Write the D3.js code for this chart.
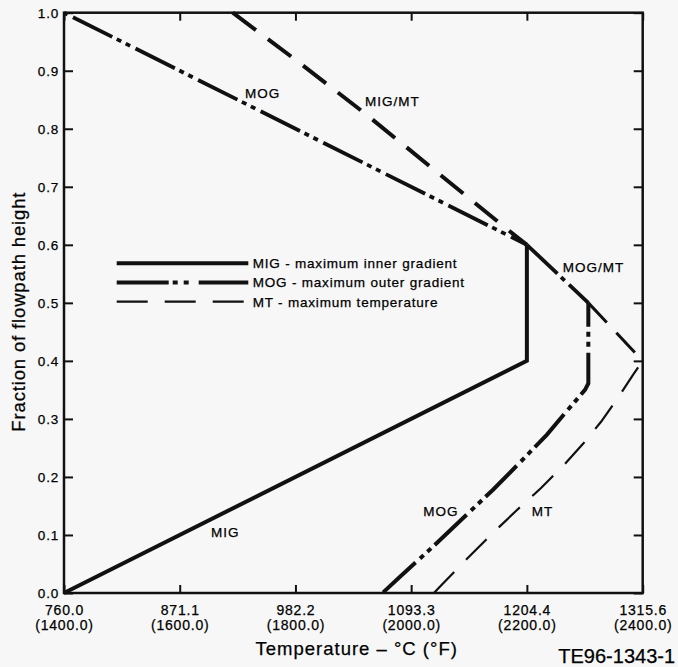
<!DOCTYPE html>
<html>
<head>
<meta charset="utf-8">
<script src="https://cdn.jsdelivr.net/npm/d3@7"></script>
<style>
  body { margin: 0; background: #f7f7f7; }
  svg { display: block; }
  text { font-family: "Liberation Sans", Arial, sans-serif; fill: #000; stroke: #000; stroke-width: 0.25px; }
</style>
</head>
<body>
<div id="chart"></div>
<script>
// tick values
var xTicksC = [760.0, 871.1, 982.2, 1093.3, 1204.4, 1315.6];
var xTicksF = ["(1400.0)", "(1600.0)", "(1800.0)", "(2000.0)", "(2200.0)", "(2400.0)"];
var yTicks = [0, 0.1, 0.2, 0.3, 0.4, 0.5, 0.6, 0.7, 0.8, 0.9, 1.0];

// curves as [temperature C, fraction of height]
var mig = [[760, 0], [1204.4, 0.4], [1204.4, 0.6]];
var migMt = [[922, 1.0], [986.6, 0.913], [1050.6, 0.824], [1121, 0.721], [1188.2, 0.623], [1204.4, 0.6]];
var mogUpper = [[760, 1.0], [1204.4, 0.6]];
var mogMt = [[1204.4, 0.6], [1263.4, 0.5]];
var mogLower = [[1263.4, 0.5], [1263.4, 0.361], [1260.2, 0.350], [1242.0, 0.312], [1223.7, 0.273],
  [1197.8, 0.225], [1171.9, 0.178], [1146.0, 0.134], [1114.3, 0.080], [1082.6, 0.028], [1065.8, 0]];
var mtUpper = [[1263.4, 0.5], [1315.6, 0.4]];
var mtLower = [[1315.6, 0.4], [1306.3, 0.376], [1290.9, 0.334], [1275.6, 0.295], [1258.3, 0.257],
  [1239.1, 0.219], [1218.0, 0.181], [1194.9, 0.143], [1170.9, 0.102], [1146.9, 0.059],
  [1122.0, 0.013], [1115.2, 0]];

var curveLabels = [
  { text: "MOG", t: 933.8, f: 0.8535 },
  { text: "MIG/MT", t: 1049.0, f: 0.839 },
  { text: "MOG/MT", t: 1238.8, f: 0.5537 },
  { text: "MIG", t: 901.1, f: 0.097 },
  { text: "MOG", t: 1105.0, f: 0.1332 },
  { text: "MT", t: 1209.0, f: 0.1332 }
];

var legendItems = ["MIG - maximum inner gradient", "MOG - maximum outer gradient", "MT - maximum temperature"];

var width = 678, height = 667;
var margin = { top: 12.7, right: 35.3, bottom: 74, left: 64 };

var svg = d3.select('#chart')
  .append('svg')
  .attr('width', width)
  .attr('height', height);

var x = d3.scaleLinear()
  .domain([760, 1315.6])
  .range([margin.left, width - margin.right]);

var y = d3.scaleLinear()
  .domain([0, 1])
  .range([height - margin.bottom, margin.top]);

// axes with inward ticks
var tickStyle = function(g) {
  g.select('.domain').remove();
  g.selectAll('.tick line').attr('stroke', '#111').attr('stroke-width', 2);
};

svg.append('g')
  .attr('transform', 'translate(' + margin.left + ',0)')
  .call(d3.axisLeft(y).tickValues(yTicks).tickSize(-9).tickPadding(5).tickFormat(d3.format('.1f')))
  .call(tickStyle)
  .selectAll('text')
  .attr('fill', '#000')
  .attr('dy', '0.36em')
  .style('font-size', '13.5px')
  .style('letter-spacing', '0.8px')
  .style('font-family', '"Liberation Sans", Arial, sans-serif');

svg.append('g')
  .attr('transform', 'translate(' + (width - margin.right) + ',0)')
  .call(d3.axisRight(y).tickValues(yTicks).tickSize(-9).tickFormat(''))
  .call(tickStyle);

svg.append('g')
  .attr('transform', 'translate(0,' + margin.top + ')')
  .call(d3.axisTop(x).tickValues(xTicksC).tickSize(-8).tickFormat(''))
  .call(tickStyle);

var bottom = svg.append('g')
  .attr('transform', 'translate(0,' + (height - margin.bottom) + ')')
  .call(d3.axisBottom(x).tickValues(xTicksC).tickSize(-8).tickFormat(''))
  .call(tickStyle);

bottom.selectAll('.tick').each(function(d, i) {
  var t = d3.select(this);
  t.append('text')
    .attr('y', 22)
    .attr('text-anchor', 'middle')
    .style('font-size', '14px')
    .style('letter-spacing', '0.8px')
    .style('font-family', '"Liberation Sans", Arial, sans-serif')
    .attr('fill', '#000')
    .text(d3.format('.1f')(d));
  t.append('text')
    .attr('y', 37)
    .attr('text-anchor', 'middle')
    .style('font-size', '14px')
    .style('letter-spacing', '0.8px')
    .style('font-family', '"Liberation Sans", Arial, sans-serif')
    .attr('fill', '#000')
    .text(xTicksF[i]);
});

// frame
svg.append('rect')
  .attr('x', x(760))
  .attr('y', y(1))
  .attr('width', x(1315.6) - x(760))
  .attr('height', y(0) - y(1))
  .attr('fill', 'none')
  .attr('stroke', '#111')
  .attr('stroke-width', 2.5);

var line = d3.line()
  .x(d => x(d[0]))
  .y(d => y(d[1]));

var drawLine = function(data, w, dash, offset) {
  svg.append('path')
    .datum(data)
    .attr('d', line)
    .attr('fill', 'none')
    .attr('stroke', '#111')
    .attr('stroke-width', w)
    .attr('stroke-linejoin', 'miter')
    .attr('stroke-dasharray', dash)
    .attr('stroke-dashoffset', offset || 0);
};

var mogDash = '44,5,5,5,5,6';
drawLine(mig, 4, null);
drawLine(migMt, 4, '29,15', 0);
drawLine(mogUpper, 3.8, mogDash, 60);
drawLine(mogMt, 3.8, '42,5,5,6', 0);
drawLine(mogLower, 4, mogDash, 20);
drawLine(mtUpper, 3, '27,14', 0);
drawLine(mtLower, 2.2, '29,17', 38);

// curve labels
svg.selectAll('.clabel')
  .data(curveLabels)
  .enter()
  .append('text')
  .attr('class', 'clabel')
  .attr('x', d => x(d.t))
  .attr('y', d => y(d.f))
  .style('font-size', '13.5px')
  .style('letter-spacing', '1px')
  .text(d => d.text);

// legend
var legend = svg.append('g').attr('transform', 'translate(116.7,263.3)');
var legendDash = [null, '52,4,5,6,5,10', '31,17'];
var legendWidth = [4, 4, 2.2];
legendItems.forEach(function(item, i) {
  legend.append('line')
    .attr('x1', 0).attr('x2', 131.6)
    .attr('y1', i * 19.2).attr('y2', i * 19.2)
    .attr('stroke', '#111')
    .attr('stroke-width', legendWidth[i])
    .attr('stroke-dasharray', legendDash[i]);
  legend.append('text')
    .attr('x', 136)
    .attr('y', i * 19.2 + 5)
    .style('font-size', '13.5px')
    .style('letter-spacing', '0.8px')
    .text(item);
});

// axis titles
svg.append('text')
  .attr('x', 356.7)
  .attr('y', 655)
  .attr('text-anchor', 'middle')
  .style('font-size', '18.5px')
  .style('letter-spacing', '1px')
  .text('Temperature \u2013 \u00b0C (\u00b0F)');

svg.append('text')
  .attr('transform', 'translate(25,311.7) rotate(-90)')
  .attr('text-anchor', 'middle')
  .style('font-size', '18.5px')
  .style('letter-spacing', '0.85px')
  .text('Fraction of flowpath height');

svg.append('text')
  .attr('x', 558.3)
  .attr('y', 663.3)
  .style('font-size', '20px')
  .text('TE96-1343-1');
</script>
</body>
</html>
